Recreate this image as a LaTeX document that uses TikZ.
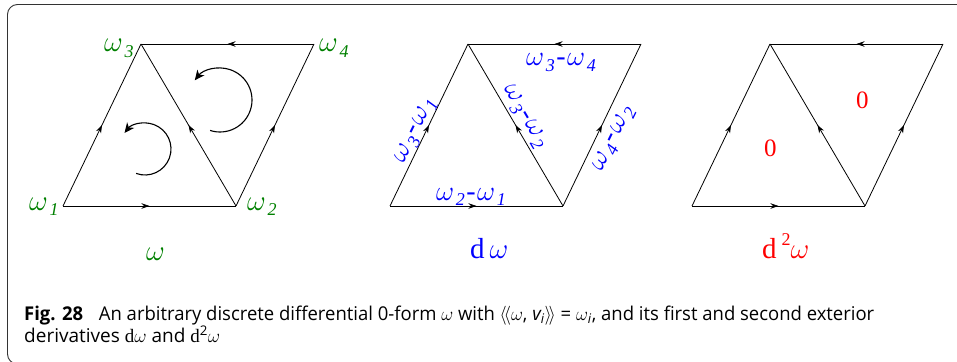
\documentclass[tikz,border=0pt]{standalone}
\usepackage{fix-cm}
\usepackage{fontspec}
\setmainfont{Liberation Serif}
\newfontfamily\capfont{Open Sans}
\usetikzlibrary{decorations.markings,arrows.meta}
\definecolor{lgreen}{RGB}{0,128,0}
\def\ssz{18}
\newcommand\wsub[1]{$\omega$\kern0.06em\raisebox{-0.2em}{\fontsize{\ssz}{\ssz}\selectfont\textit{#1}}}
\newcommand\bdiff[2]{\wsub{#1}\kern0.05em-\kern0.05em\wsub{#2}}
\tikzset{
  edgeline/.style={draw,line width=0.8pt,postaction={decorate},
    decoration={markings,mark=at position 0.5 with {\arrow{Stealth[length=8pt,width=5.5pt,inset=2.5pt]}}}},
  circarrow/.style={draw,line width=1.1pt,-{Stealth[length=10pt,width=9pt,inset=3pt]}},
  glab/.style={text=lgreen,font=\fontsize{29}{29}\selectfont\def\ssz{18},inner sep=0pt},
  blab/.style={text=blue,font=\fontsize{28}{28}\selectfont\def\ssz{18},inner sep=0pt},
  rlab/.style={text=red,font=\fontsize{25}{25}\selectfont,inner sep=0pt},
  caption/.style={anchor=base west,inner sep=0pt,font=\capfont\fontsize{19}{22}\selectfont}
}
\begin{document}
\begin{tikzpicture}[x=1pt,y=-1pt]
\useasboundingbox (0,0) rectangle (957,361);
% frame
\draw[gray!40!black,line width=0.9pt,rounded corners=10pt] (970,4.5) -- (7.5,4.5) -- (7.5,364) -- (40,364);
% panel 1
\coordinate (a1) at (63,206);
\coordinate (a2) at (236,206);
\coordinate (a3) at (141,44);
\coordinate (a4) at (314,44);
\draw[edgeline] (a1) -- (a2);
\draw[edgeline] (a1) -- (a3);
\draw[edgeline] (a2) -- (a3);
\draw[edgeline] (a2) -- (a4);
\draw[edgeline] (a4) -- (a3);
\coordinate (c1) at (145,149);
\coordinate (c2) at (220,100);
\draw[circarrow] ([shift={(110:26)}]c1) arc[start angle=110,end angle=-142,radius=26];
\draw[circarrow] ([shift={(108:32)}]c2) arc[start angle=108,end angle=-142,radius=32];
\node[glab,anchor=base west] (l1) at (29,210) {\wsub{1}};
\node[glab,anchor=base west] (l2) at (247,210) {\wsub{2}};
\node[glab,anchor=base west] (l3) at (104,52) {\wsub{3}};
\node[glab,anchor=base west] (l4) at (319,52) {\wsub{4}};
\node[glab,anchor=base west] (lw) at (146,260) {$\omega$};
% panel 2
\coordinate (b1) at (390,206);
\coordinate (b2) at (563,206);
\coordinate (b3) at (468,44);
\coordinate (b4) at (641,44);
\draw[edgeline] (b1) -- (b2);
\draw[edgeline] (b1) -- (b3);
\draw[edgeline] (b2) -- (b3);
\draw[edgeline] (b2) -- (b4);
\draw[edgeline] (b4) -- (b3);
\node[blab,rotate=64] (e13) at (416,131) {\bdiff{3}{1}};
\node[blab,anchor=base west] (e21) at (436,200) {\bdiff{2}{1}};
\node[blab,rotate=-59.6] (e32) at (524,117) {\bdiff{3}{2}};
\node[blab,rotate=64] (e42) at (614,139) {\bdiff{4}{2}};
\node[blab,anchor=base west] (e34) at (526,66) {\bdiff{3}{4}};
\node[blab,font=\fontsize{29}{29}\selectfont,anchor=base west] (ldw) at (470,258) {d\,$\omega$};
% panel 3
\coordinate (d1) at (692,206);
\coordinate (d2) at (865,206);
\coordinate (d3) at (770,44);
\coordinate (d4) at (943,44);
\draw[edgeline] (d1) -- (d2);
\draw[edgeline] (d1) -- (d3);
\draw[edgeline] (d2) -- (d3);
\draw[edgeline] (d2) -- (d4);
\draw[edgeline] (d4) -- (d3);
\node[rlab,anchor=base west] (z1) at (764,156) {0};
\node[rlab,anchor=base west] (z2) at (856,108) {0};
\node[rlab,font=\fontsize{29}{29}\selectfont,anchor=base west] (ldd) at (762,258) {d\,\raisebox{0.42em}{\fontsize{18}{18}\selectfont 2}$\omega$};
% caption
\node[caption] (cap1) at (24,320) {\resizebox{850pt}{\height}{\capfont\fontsize{19}{22}\selectfont\textbf{Fig. 28}\hspace{0.85em}An arbitrary discrete differential 0-form $\omega$ with $\langle\!\langle\omega$, \textit{v\textsubscript{i}}$\rangle\!\rangle$ = $\omega$\textsubscript{\textit{i}}, and its first and second exterior}};
\node[caption] (cap2) at (24,342) {\resizebox{196pt}{\height}{\capfont\fontsize{19}{22}\selectfont derivatives {\rmfamily d}$\omega$ and {\rmfamily d}\textsuperscript{2}$\omega$}};
\end{tikzpicture}
\end{document}
